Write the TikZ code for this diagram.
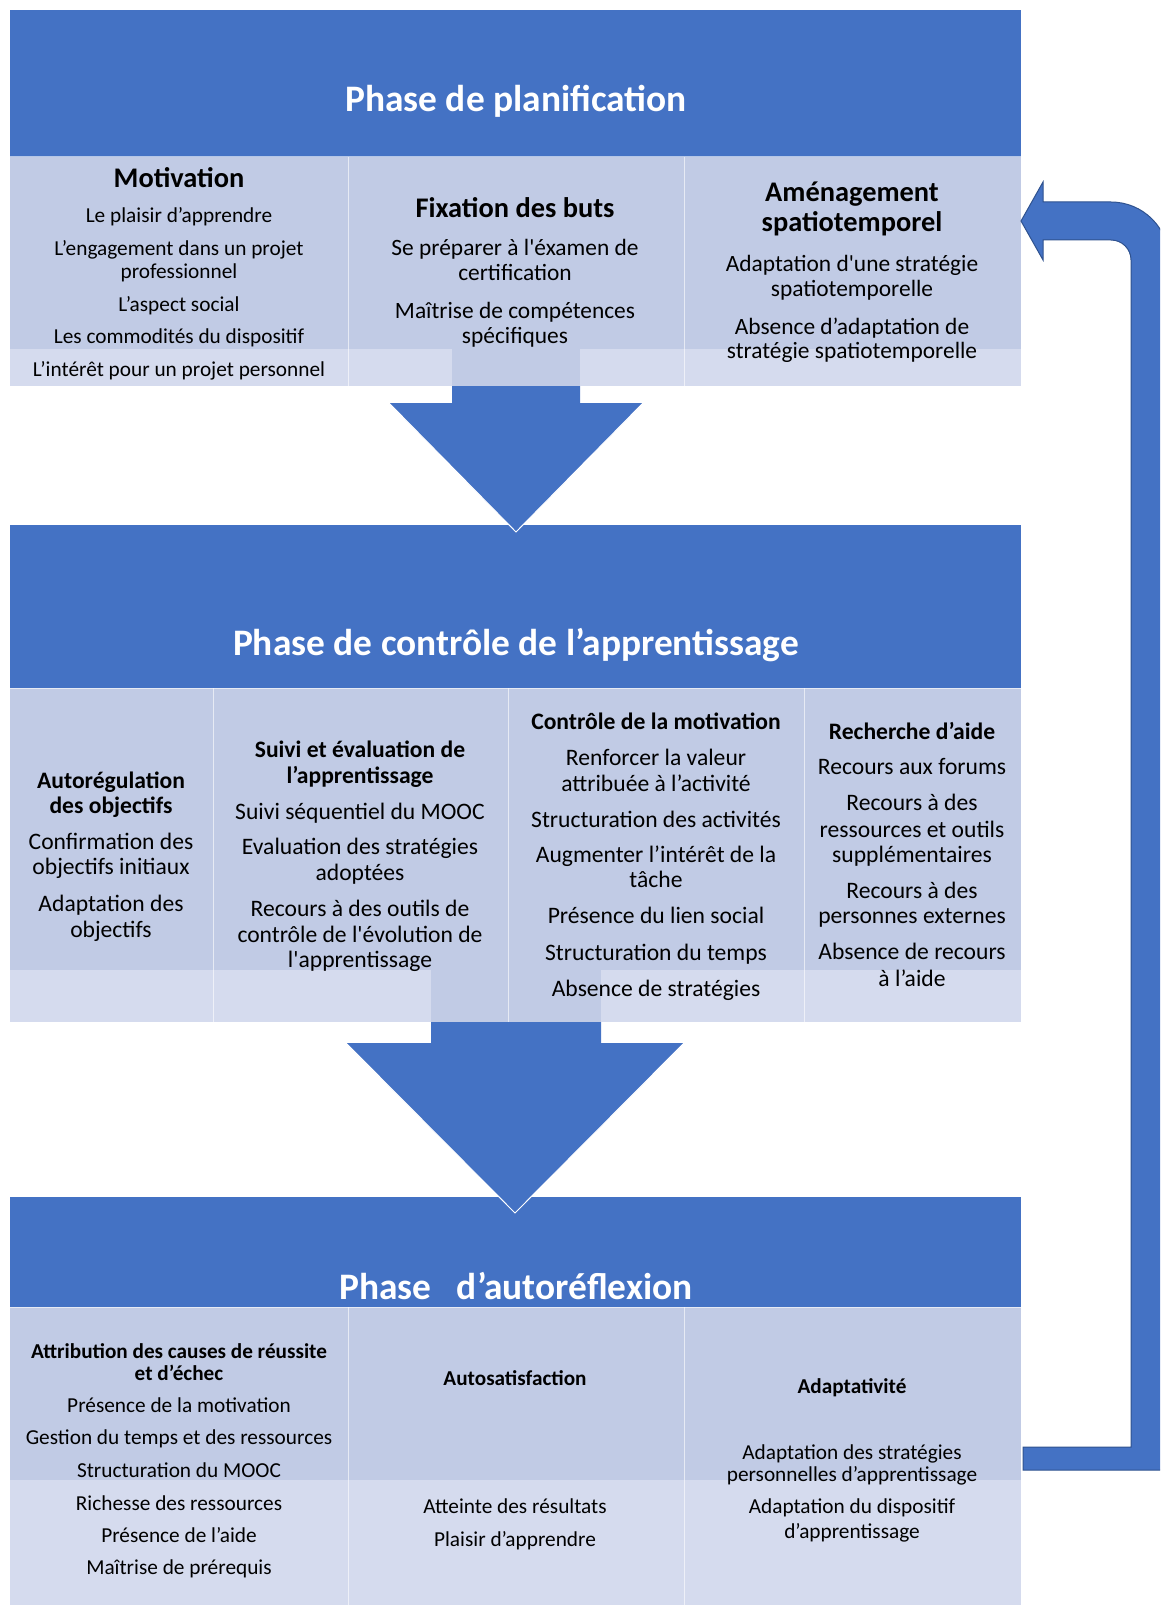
\documentclass[tikz,border=0pt]{standalone}
\usepackage{fontspec}
\setmainfont{Carlito}
\definecolor{hdblue}{RGB}{68,114,196}
\definecolor{hdedge}{RGB}{47,82,143}
\definecolor{rowdark}{RGB}{193,203,229}
\definecolor{rowlight}{RGB}{213,219,238}
\tikzset{
  ln/.style={anchor=base, inner sep=0pt},
  phase/.style={ln, yshift=-12pt, text=white, font=\bfseries\fontsize{37.4}{44}\selectfont},
  sep/.style={white, opacity=.6, line width=1pt}
}
\begin{document}
\begin{tikzpicture}[x=1pt, y=-1pt,
    tA/.style={ln, yshift=-9.5pt, font=\bfseries\fontsize{28.4}{34}\selectfont},
    bA/.style={ln, yshift=-7pt, font=\fontsize{21.3}{25}\selectfont},
    bAw/.style={ln, yshift=-7.7pt, font=\fontsize{23.4}{27}\selectfont},
    tB/.style={ln, yshift=-7.8pt, font=\bfseries\fontsize{23.6}{28}\selectfont},
    bB/.style={ln, yshift=-7.8pt, font=\fontsize{23.6}{28}\selectfont},
    tC/.style={ln, yshift=-7pt, font=\bfseries\fontsize{21.2}{25}\selectfont},
    bC/.style={ln, yshift=-7pt, font=\fontsize{21.3}{25}\selectfont}]
  \clip (0,0) rectangle (1160,1605);

  % --- bands
  \fill[hdblue] (10,10) rectangle (1021,157);
  \fill[rowdark] (10,157) rectangle (1021,349);
  \fill[rowlight] (10,349) rectangle (1021,386);
  \fill[rowdark] (452,349) rectangle (580,386); % shaft behind the table
  \fill[hdblue] (10,525) rectangle (1021,688);
  \fill[rowdark] (10,688) rectangle (1021,970);
  \fill[rowlight] (10,970) rectangle (1021,1022);
  \fill[rowdark] (431,970) rectangle (601,1022);
  \fill[hdblue] (10,1197) rectangle (1021,1307);
  \fill[rowdark] (10,1307) rectangle (1021,1480);
  \fill[rowlight] (10,1480) rectangle (1021,1605);

  % column rules
  \foreach \x in {348,684} \draw[sep] (\x,157) -- (\x,386);
  \foreach \x in {213,508,804} \draw[sep] (\x,688) -- (\x,1022);
  \foreach \x in {348,684} \draw[sep] (\x,1307) -- (\x,1605);
  \foreach \y in {157,688,1307} \draw[sep] (10,\y) -- (1021,\y);

  % down arrows
  \fill[hdblue] (452,386) -- (452,403) -- (389,403) -- (516,532) -- (643,403) -- (580,403) -- (580,386) -- cycle;
  \draw[white, line width=1pt] (389,403) -- (516,532) -- (643,403);
  \fill[hdblue] (431,1022) -- (431,1043) -- (346,1043) -- (515,1213) -- (684,1043) -- (601,1043) -- (601,1022) -- cycle;
  \draw[white, line width=1pt] (346,1043) -- (515,1213) -- (684,1043);

  % return arrow
  \filldraw[fill=hdblue, draw=hdedge, line width=1pt] (1021,221) -- (1043,182) -- (1043,202) -- (1111,202)
    arc[start angle=-90, end angle=0, radius=58] -- (1169,1470) -- (1023,1470) -- (1023,1447) -- (1131,1447)
    -- (1131,260) arc[start angle=0, end angle=-90, radius=20] -- (1043,240) -- (1043,260) -- cycle;

  % headers
  \node[phase] (ph1) at (516,100) {Phase de planification};
  \node[phase] (ph2) at (516,643) {Phase de contrôle de l’apprentissage};
  \node[phase] (ph3) at (516,1287) {Phase\ \ \ d’autoréflexion};

  % planification
  \node[tA] (mot) at (179,178) {Motivation};
  \foreach \y/\t [count=\i] in {216/Le plaisir d’apprendre, 248/L’engagement dans un projet, 271/professionnel,
      304/L’aspect social, 336/Les commodités du dispositif, 369/L’intérêt pour un projet personnel}
    \node[bA] (mot\i) at (179,\y) {\t};
  \node[tA] (fix) at (515,208) {Fixation des buts};
  \foreach \y/\t [count=\i] in {248/Se préparer à l\textquotesingle éxamen de, 273/certification,
      311/Maîtrise de compétences, 336/spécifiques}
    \node[bAw] (fix\i) at (515,\y) {\t};
  \node[tA] (amea) at (852,192) {Aménagement};
  \node[tA] (ameb) at (852,222) {spatiotemporel};
  \foreach \y/\t [count=\i] in {264/Adaptation d\textquotesingle une stratégie, 289/spatiotemporelle,
      327/Absence d’adaptation de, 351/stratégie spatiotemporelle}
    \node[bAw] (ame\i) at (852,\y) {\t};

  % controle
  \node[tB] (auta) at (111,781) {Autorégulation};
  \node[tB] (autb) at (111,806) {des objectifs};
  \foreach \y/\t [count=\i] in {842/Confirmation des, 867/objectifs initiaux, 904/Adaptation des, 930/objectifs}
    \node[bB] (aut\i) at (111,\y) {\t};
  \node[tB] (suia) at (360,750) {Suivi et évaluation de};
  \node[tB] (suib) at (360,776) {l’apprentissage};
  \foreach \y/\t [count=\i] in {812/Suivi séquentiel du MOOC, 847/Evaluation des stratégies, 873/adoptées,
      909/Recours à des outils de, 935/contrôle de l\textquotesingle évolution de, 960/l\textquotesingle apprentissage}
    \node[bB] (sui\i) at (360,\y) {\t};
  \node[tB] (con) at (656,722) {Contrôle de la motivation};
  \foreach \y/\t [count=\i] in {758/Renforcer la valeur, 784/attribuée à l’activité, 820/Structuration des activités,
      855/Augmenter l’intérêt de la, 880/tâche, 916/Présence du lien social, 953/Structuration du temps,
      989/Absence de stratégies}
    \node[bB] (con\i) at (656,\y) {\t};
  \node[tB] (rec) at (912,732) {Recherche d’aide};
  \foreach \y/\t [count=\i] in {767/Recours aux forums, 803/Recours à des, 830/ressources et outils,
      855/supplémentaires, 891/Recours à des, 916/personnes externes, 952/Absence de recours, 979/à l’aide}
    \node[bB] (rec\i) at (912,\y) {\t};

  % autoreflexion
  \node[tC] (atta) at (179,1351) {Attribution des causes de réussite};
  \node[tC] (attb) at (179,1373) {et d’échec};
  \foreach \y/\t [count=\i] in {1405/Présence de la motivation, 1437/Gestion du temps et des ressources,
      1470/Structuration du MOOC, 1503/Richesse des ressources, 1535/Présence de l’aide, 1567/Maîtrise de prérequis}
    \node[bC] (att\i) at (179,\y) {\t};
  \node[tC] (sat) at (515,1378) {Autosatisfaction};
  \foreach \y/\t [count=\i] in {1506/Atteinte des résultats, 1539/Plaisir d’apprendre}
    \node[bC] (sat\i) at (515,\y) {\t};
  \node[tC] (ada) at (852,1386) {Adaptativité};
  \foreach \y/\t [count=\i] in {1452/Adaptation des stratégies, 1474/personnelles d’apprentissage,
      1506/Adaptation du dispositif, 1531/d’apprentissage}
    \node[bC] (ada\i) at (852,\y) {\t};
\end{tikzpicture}
\end{document}
